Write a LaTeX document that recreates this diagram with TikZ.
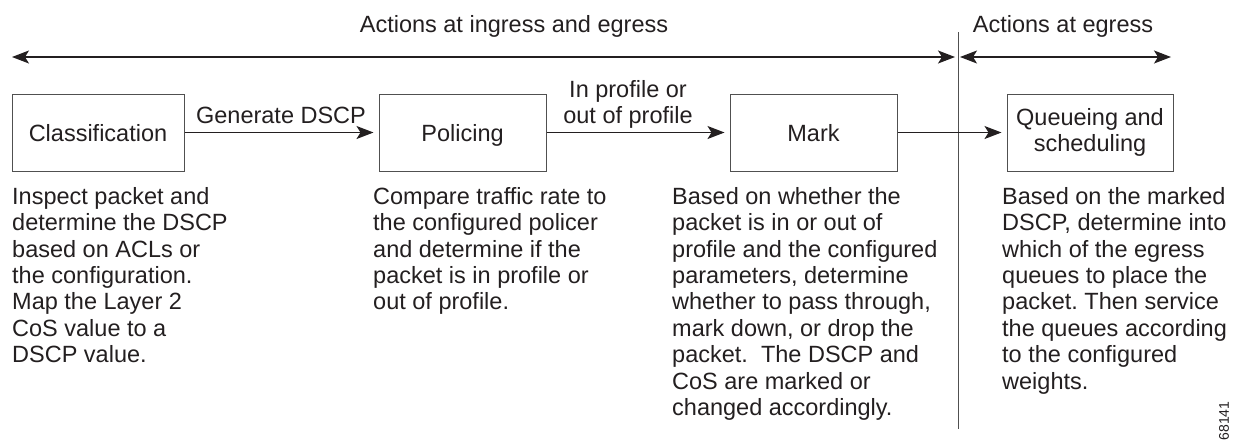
\documentclass[tikz,border=0pt]{standalone}
\usepackage{fontspec}
\setmainfont{Liberation Sans}
\usetikzlibrary{arrows.meta}
\definecolor{txt}{RGB}{35,31,32}
\definecolor{boxc}{RGB}{80,80,80}
\frenchspacing
\begin{document}
\begin{tikzpicture}[x=1pt,y=-1pt,
  font=\fontsize{23.5}{26.4}\selectfont, text=txt,
  box/.style={draw=boxc, line width=1pt, minimum height=77pt, inner sep=0pt, align=center},
  onel/.style={text height=17pt, text depth=0pt},
  desc/.style={anchor=north west, inner sep=0pt, align=left},
  lbl/.style={inner sep=0pt},
  arr/.style={-{Stealth[length=17pt,width=13pt,inset=4pt]}, line width=1.2pt, draw=txt, shorten >=5pt},
  darr/.style={{Stealth[length=17pt,width=13pt,inset=4pt]}-{Stealth[length=17pt,width=13pt,inset=4pt]}, line width=1.2pt, draw=txt}]
\useasboundingbox (0,0) rectangle (1233,440);

% top scope labels and arrows
\node[lbl, anchor=base] (t1) at (514,32) {Actions at ingress and egress};
\node[lbl, anchor=base] (t2) at (1063,32) {Actions at egress};
\coordinate (tl) at (12,57);
\coordinate (tr) at (955,57);
\coordinate (el) at (960,57);
\coordinate (er) at (1171,57);
\draw[darr] (tl) -- (tr);
\draw[darr] (el) -- (er);
\coordinate (vt) at (958,32);
\coordinate (vb) at (958,429);
\draw[line width=0.8pt, draw=boxc] (vt) -- (vb);

% boxes
\node[box, onel, minimum width=172pt] (cls) at (98,132.5) {Classification};
\node[box, onel, minimum width=167pt] (pol) at (462.5,132.5) {Policing};
\node[box, onel, minimum width=167pt] (mrk) at (813.5,132.5) {Mark};
\node[box, minimum width=166pt] (que) at (1090,132.5) {Queueing and\\scheduling};

% connectors
\draw[arr] (cls.east) -- (pol.west);
\draw[arr] (pol.east) -- (mrk.west);
\draw[arr] (mrk.east) -- (que.west);
\node[lbl, anchor=base] (lg) at (281,123) {Generate DSCP};
\node[lbl, anchor=north, align=center] (lp) at (628,80) {In profile or\\out of profile};

% descriptions
\node[desc] (dc) at (12,187) {Inspect packet and\\determine the DSCP\\based on ACLs or\\the configuration.\\Map the Layer 2\\CoS value to a\\DSCP value.};
\node[desc] (dp) at (373,187) {Compare traffic rate to\\the configured policer\\and determine if the\\packet is in profile or\\out of profile.};
\node[desc] (dm) at (672,187) {Based on whether the\\packet is in or out of\\profile and the configured\\parameters, determine\\whether to pass through,\\mark down, or drop the\\packet.\ \ The DSCP and\\CoS are marked or\\changed accordingly.};
\node[desc] (dq) at (1002,187) {Based on the marked\\DSCP, determine into\\which of the egress\\queues to place the\\packet. Then service\\the queues according\\to the configured\\weights.};

\node[lbl, rotate=90, font=\fontsize{14}{16}\selectfont] (id) at (1224,421) {68141};
\end{tikzpicture}
\end{document}
